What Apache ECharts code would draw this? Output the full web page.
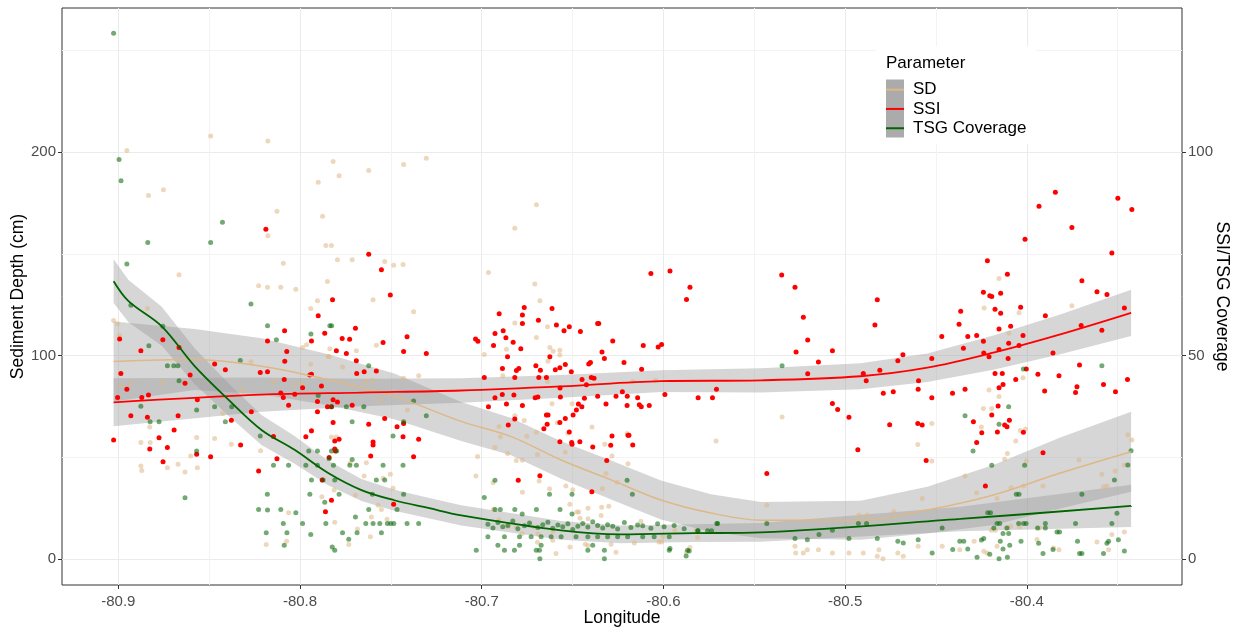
<!DOCTYPE html>
<html><head><meta charset="utf-8">
<script src="https://cdn.jsdelivr.net/npm/echarts@6/dist/echarts.min.js"></script>
<style>html,body{margin:0;padding:0;background:#fff}#c{width:1233px;height:628px}</style>
</head><body><div id="c"></div>
<script>
const FONT = '"Liberation Sans", Arial, sans-serif';
const xTicks = [-80.9, -80.8, -80.7, -80.6, -80.5, -80.4];
const xMinor = [-80.85, -80.75, -80.65, -80.55, -80.45, -80.35];
const leftTicks = [0, 100, 200];
const leftMinor = [50, 150, 250];
const rightTicks = [0, 50, 100];
const legendNames = ['SD', 'SSI', 'TSG Coverage'];

// Smoothed fits (longitude, fitted value, half-width of confidence band)
const sdFitLon = [-80.9026,-80.858,-80.8212,-80.7845,-80.7481,-80.7113,-80.6838,-80.6563,-80.6288,-80.6014,-80.5739,-80.5464,-80.4915,-80.4548,-80.4184,-80.3816,-80.3426];
const sdFit    = [97.1,98.0,94.7,88.1,79.9,67.6,60.1,48.6,38.8,28.9,22.5,19.0,19.0,24.0,31.4,42.2,52.7];
const sdSe     = [19.7,15.0,13.8,12.5,11.3,9.6,9.2,9.2,9.6,9.6,9.2,8.9,9.6,11.5,14.8,17.5,19.7];

const ssiFitLon = [-80.9026,-80.8212,-80.7662,-80.7113,-80.6563,-80.6014,-80.5464,-80.4915,-80.4548,-80.4184,-80.3816,-80.3426];
const ssiFit    = [38.5,40.4,40.9,41.4,42.4,43.7,43.9,44.9,47.0,50.7,55.2,60.5];
const ssiSe     = [5.9,4.2,3.4,3.0,2.8,2.7,3.0,3.2,3.5,4.2,4.9,5.7];

const tsgFitLon = [-80.9026,-80.8944,-80.8761,-80.858,-80.8393,-80.8212,-80.803,-80.7845,-80.7662,-80.7481,-80.7294,-80.7113,-80.6563,-80.6234,-80.5832,-80.5464,-80.4365,-80.3426];
const tsgFit    = [68.3,63.4,57.2,47.4,39.1,31.7,26.8,21.1,16.9,14.4,12.5,10.7,7.0,6.0,6.3,6.5,9.8,13.0];
const tsgSe     = [5.4,5.2,4.8,4.4,4.0,3.7,3.4,3.0,2.7,2.6,2.5,2.5,2.3,2.2,2.2,2.3,3.0,5.2];

// Observations [longitude, value]
const sdPoints = [
[-80.8953,200.9],[-80.8492,208.0],[-80.8177,205.5],[-80.8834,178.7],[-80.8752,181.6],[-80.8127,171.0],[-80.8177,158.9],[-80.7818,195.5],[-80.7785,188.5],[-80.79,185.3],[-80.7876,168.5],[-80.7622,191.0],[-80.743,194.0],[-80.7305,197.1],
[-80.6699,174.2],[-80.6818,162.6],
[-80.7858,154.2],[-80.7827,154.2],[-80.7794,147.1],[-80.7713,147.1],[-80.7534,146.3],[-80.7485,144.4],[-80.7433,144.8],[-80.8092,145.4],[-80.8666,139.7],[-80.7849,136.4],[-80.8228,134.4],[-80.8179,133.6],[-80.8106,133.6],[-80.8023,132.6],[-80.7904,127.0],[-80.7941,123.2],[-80.7598,127.5],[-80.7375,121.6],[-80.7986,104.0],[-80.7964,105.3],[-80.7836,103.3],[-80.784,99.5],[-80.769,102.3],[-80.758,105.1],[-80.743,88.8],[-80.7347,90.1],
[-80.9026,117.3],[-80.9004,115.7],[-80.8993,109.9],[-80.884,123.2],[-80.8931,86.3],[-80.8986,85.3],[-80.8757,86.5],[-80.8321,83.1],[-80.827,96.9],[-80.8146,87.2],[-80.8029,86.0],[-80.7986,86.0],[-80.7941,95.7],[-80.7845,99.5],[-80.7766,94.4],[-80.7638,87.2],[-80.7602,87.8],[-80.7562,78.4],[-80.7409,73.2],
[-80.8827,64.9],[-80.8876,57.2],[-80.8825,57.2],[-80.8876,45.7],[-80.8871,43.4],[-80.873,44.8],[-80.8671,46.5],[-80.8633,42.7],[-80.8602,50.6],[-80.8569,59.7],[-80.8565,44.8],[-80.847,59.2],[-80.8426,71.5],[-80.8378,56.4],[-80.8217,53.1],[-80.8063,22.6],[-80.8186,7.0],[-80.7937,62.8],[-80.7827,59.9],[-80.78,59.9],[-80.788,30.5],[-80.7812,33.8],[-80.7809,18.0],[-80.7732,7.0],[-80.7695,31.2],[-80.7684,14.6],[-80.7647,40.7],[-80.7635,47.3],[-80.757,26.3],[-80.7552,24.3],[-80.7607,20.6],[-80.7521,19.4],[-80.7613,10.8],[-80.7543,39.6],[-80.7503,41.6],[-80.7488,34.7],[-80.7724,47.0],[-80.8074,8.6],
[-80.6963,140.8],[-80.6708,135.2],[-80.668,127.0],[-80.6818,116.0],[-80.6699,108.9],[-80.6638,114.2],[-80.6548,112.2],[-80.6986,100.5],[-80.6864,103.1],[-80.6625,104.0],[-80.657,102.6],[-80.657,100.3],[-80.6607,102.1],[-80.6635,97.2],[-80.64,96.4],[-80.6168,87.2],[-80.6043,87.8],[-80.6884,90.0],[-80.6638,87.2],[-80.6613,76.3],[-80.6503,76.3],[-80.6818,70.4],[-80.6766,68.0],[-80.6584,66.9],[-80.6393,64.9],[-80.62,61.6],[-80.6191,60.8],[-80.6905,65.1],[-80.6927,54.7],[-80.6897,60.1],[-80.6752,60.3],[-80.6699,62.3],[-80.6858,51.8],[-80.681,48.3],[-80.6777,48.5],[-80.6693,51.3],[-80.654,52.4],[-80.6526,61.8],[-80.6323,56.4],[-80.6283,50.6],[-80.6195,46.7],[-80.7032,40.7],[-80.7023,50.3],[-80.6937,37.4],[-80.6776,32.7],[-80.6684,38.3],[-80.6627,34.5],[-80.6537,35.8],[-80.6499,34.0],[-80.6515,26.8],[-80.6316,41.9],[-80.6255,37.6],[-80.6336,34.5],[-80.634,25.4],[-80.6124,18.5],[-80.6415,24.9],[-80.6466,23.0],[-80.571,57.9],[-80.5873,3.2],[-80.5854,5.5],
[-80.6288,7.2],[-80.6261,3.2],[-80.616,7.8],[-80.6025,8.3],[-80.601,8.3],[-80.5937,14.1],[-80.582,14.1],[-80.5812,10.5],[-80.6003,11.0],[-80.6609,9.1],[-80.6591,2.6],[-80.6693,8.1],[-80.6515,5.8],[-80.643,7.2],[-80.6415,6.5],[-80.6477,23.0],[-80.6459,19.9],[-80.6415,19.7],[-80.6343,21.3],[-80.6301,25.9],[-80.6935,24.4],[-80.6905,19.2],[-80.6856,15.7],[-80.681,15.7],[-80.6712,15.6],[-80.669,12.2],[-80.6777,12.4],[-80.6607,13.4],
[-80.4153,137.9],[-80.4235,123.4],[-80.4043,121.1],[-80.3752,124.5],[-80.4098,111.0],[-80.5347,69.7],[-80.4208,83.1],[-80.4153,79.8],[-80.4239,74.0],[-80.4193,74.0],[-80.4021,89.1],[-80.4523,66.6],[-80.46,56.2],[-80.425,64.9],[-80.4036,63.1],[-80.4007,63.8],[-80.4523,48.1],[-80.434,40.7],[-80.4061,58.0],[-80.4107,51.8],[-80.4122,49.0],[-80.4003,48.1],[-80.4276,32.5],[-80.4164,29.7],[-80.4087,35.0],[-80.4018,35.8],[-80.3911,35.8],[-80.3712,48.6],[-80.3587,41.6],[-80.3559,35.8],[-80.3514,43.2],[-80.3463,46.2],[-80.3444,61.0],[-80.3422,58.5],[-80.4576,29.7],[-80.4732,23.1],[-80.4878,21.5],[-80.4924,21.5],[-80.5431,26.4],
[-80.5276,6.2],[-80.5272,2.9],[-80.523,2.9],[-80.5208,4.5],[-80.5147,4.5],[-80.507,2.9],[-80.4979,2.9],[-80.49,2.9],[-80.4823,1.2],[-80.4792,0],[-80.4814,4.5],[-80.471,2.9],[-80.468,1.2],[-80.4598,6.2],[-80.4466,6.2],[-80.4369,4.5],[-80.429,8.6],[-80.4237,3.7],[-80.4219,2.9],[-80.4195,14.1],[-80.4173,14.1],[-80.4164,6.2],[-80.4114,15.2],[-80.4089,16.0],[-80.4041,15.7],[-80.3944,9.5],[-80.393,15.2],[-80.3853,5.3],[-80.3823,4.5],[-80.3614,8.3],[-80.355,4.5],[-80.3532,12.0],[-80.3463,13.2],[-80.3578,35.5]
];

const ssiPoints = [
[-80.8188,81.1],[-80.7622,74.9],[-80.7552,71.1],[-80.7503,64.9],[-80.7821,63.7],[-80.79,59.8],[-80.8085,56.1],[-80.7695,56.7],[-80.7864,55.5],[-80.8179,53.6],[-80.7937,53.6],[-80.7768,54.2],[-80.7727,54.0],[-80.7411,54.6],[-80.7543,53.2],[-80.7305,50.5],[-80.743,51.0],[-80.78,51.2],[-80.7745,50.5],[-80.769,48.7],[-80.8073,51.0],[-80.8084,48.6],[-80.8993,54.1],[-80.8876,51.2],[-80.8986,45.6],[-80.8755,53.9],[-80.8666,52.0],[-80.847,47.9],[-80.8411,46.5],[-80.8605,45.2],[-80.8633,43.2],[-80.8953,41.7],[-80.9004,39.7],[-80.8871,39.7],[-80.8834,40.3],[-80.8931,35.2],[-80.9026,29.2],[-80.884,34.8],[-80.8776,29.8],[-80.8827,27.0],[-80.8693,31.7],[-80.8671,35.2],[-80.873,27.4],[-80.8754,23.9],[-80.8569,25.7],[-80.8492,25.1],[-80.8565,39.1],[-80.8378,34.1],[-80.8327,28.0],[-80.8268,36.2],[-80.8228,21.6],[-80.8127,24.6],[-80.8219,45.8],[-80.8179,46.0],[-80.8087,44.1],[-80.8146,30.1],[-80.8106,40.8],[-80.8092,39.7],[-80.8063,37.8],[-80.8029,40.5],[-80.7986,42.1],[-80.7946,45.2],[-80.7937,45.4],[-80.7904,38.7],[-80.7904,36.2],[-80.7882,42.5],[-80.7849,37.4],[-80.7827,37.4],[-80.7818,39.1],[-80.7794,38.6],[-80.7713,37.8],[-80.7688,45.6],[-80.7647,46.0],[-80.758,46.2],[-80.7622,33.1],[-80.7598,28.7],[-80.7598,28.0],[-80.7534,34.5],[-80.7466,32.5],[-80.743,33.3],[-80.7433,30.0],[-80.7347,29.4],[-80.7375,25.1],[-80.7611,25.3],[-80.7818,33.5],[-80.7809,29.0],[-80.7785,29.4],[-80.7809,27.0],[-80.7805,26.5],[-80.7968,30.0],[-80.7937,31.5],[-80.784,24.9],[-80.7878,19.4],[-80.7827,14.4],[-80.786,11.6],[-80.7485,13.4],
[-80.6069,70.2],[-80.5964,70.8],[-80.5854,66.8],[-80.5873,63.8],[-80.7034,54.1],[-80.7021,53.5],[-80.6904,60.3],[-80.6766,61.8],[-80.6776,60.0],[-80.6776,57.9],[-80.6688,58.7],[-80.6613,61.6],[-80.6927,55.4],[-80.6882,56.1],[-80.6867,54.4],[-80.6935,52.5],[-80.6827,53.3],[-80.6785,51.7],[-80.6589,57.5],[-80.6518,57.1],[-80.6547,56.1],[-80.6457,55.9],[-80.6362,57.9],[-80.6356,57.9],[-80.6279,53.6],[-80.6111,52.5],[-80.6029,52.1],[-80.601,52.7],[-80.6858,49.7],[-80.6625,49.7],[-80.6338,50.9],[-80.6325,49.3],[-80.6217,48.3],[-80.6886,46.8],[-80.6796,46.8],[-80.6809,46.3],[-80.6702,47.5],[-80.6677,46.4],[-80.6595,46.5],[-80.657,47.0],[-80.654,47.8],[-80.6507,46.0],[-80.6411,47.9],[-80.6402,48.3],[-80.612,46.6],[-80.6986,44.6],[-80.6818,44.6],[-80.6686,44.6],[-80.6644,44.6],[-80.6448,44.1],[-80.6397,44.6],[-80.6382,44.4],[-80.6569,42.0],[-80.6424,42.8],[-80.6226,41.1],[-80.6927,39.6],[-80.6887,40.4],[-80.6823,40.3],[-80.6691,39.8],[-80.6567,39.8],[-80.6435,39.5],[-80.6362,40.0],[-80.6261,40.0],[-80.6199,40.0],[-80.6142,39.6],[-80.5992,40.4],[-80.5809,39.6],[-80.573,39.6],[-80.5708,41.7],[-80.6963,37.4],[-80.6864,38.1],[-80.6776,37.7],[-80.6706,39.6],[-80.6468,38.1],[-80.6316,38.1],[-80.62,37.7],[-80.6133,37.9],[-80.6122,37.4],[-80.6078,37.7],[-80.6818,34.4],[-80.6854,32.9],[-80.6644,35.4],[-80.6635,35.4],[-80.654,34.5],[-80.6497,35.4],[-80.6479,36.6],[-80.6449,37.4],[-80.664,33.1],[-80.6658,32.0],[-80.657,33.5],[-80.6518,31.2],[-80.6505,28.6],[-80.6503,28.2],[-80.646,28.8],[-80.657,28.8],[-80.6389,27.5],[-80.629,27.9],[-80.6283,30.2],[-80.6195,30.4],[-80.619,30.4],[-80.6169,28.0],[-80.6312,24.2],[-80.6799,19.3],[-80.668,20.4],[-80.6394,16.5],
[-80.3843,90.2],[-80.3933,86.7],[-80.3499,88.7],[-80.3422,85.9],[-80.3752,81.5],[-80.401,78.6],[-80.3532,75.2],[-80.4217,73.3],[-80.4107,70.0],[-80.5349,69.8],[-80.3697,68.4],[-80.5276,66.8],[-80.4239,65.6],[-80.4204,64.7],[-80.4193,64.5],[-80.4144,65.3],[-80.3614,65.7],[-80.3559,65.0],[-80.4823,63.7],[-80.4175,61.4],[-80.4144,60.4],[-80.4034,61.9],[-80.4364,60.9],[-80.523,59.4],[-80.3898,59.8],[-80.3463,61.7],[-80.4836,57.5],[-80.4373,57.7],[-80.4153,56.5],[-80.4089,57.2],[-80.5206,53.8],[-80.4468,54.7],[-80.4325,54.7],[-80.4276,54.9],[-80.4239,53.5],[-80.3587,56.2],[-80.3701,57.4],[-80.4021,54.9],[-80.527,50.9],[-80.507,51.2],[-80.5147,48.4],[-80.4682,50.2],[-80.471,48.7],[-80.4523,49.3],[-80.4349,51.8],[-80.4237,50.6],[-80.4208,49.7],[-80.4153,51.5],[-80.41,53.0],[-80.4043,52.5],[-80.4103,49.3],[-80.3856,50.6],[-80.5206,45.5],[-80.49,45.6],[-80.4884,43.8],[-80.4809,46.4],[-80.4596,43.8],[-80.4175,45.6],[-80.4135,45.6],[-80.4061,44.1],[-80.4003,46.7],[-80.3939,45.4],[-80.3823,45.0],[-80.371,47.7],[-80.3578,42.9],[-80.3446,44.1],[-80.479,40.7],[-80.4735,41.1],[-80.4598,41.7],[-80.4523,39.6],[-80.4409,40.7],[-80.434,41.7],[-80.4153,42.1],[-80.4131,42.9],[-80.3902,41.3],[-80.3724,42.3],[-80.3732,40.9],[-80.3512,41.1],[-80.507,38.2],[-80.5041,36.7],[-80.4979,34.8],[-80.4755,33.0],[-80.46,33.3],[-80.4576,32.9],[-80.4294,33.7],[-80.4248,31.0],[-80.4193,35.4],[-80.4162,31.2],[-80.4158,37.6],[-80.4122,32.9],[-80.4109,32.5],[-80.4096,34.1],[-80.4276,28.6],[-80.4019,31.1],[-80.493,26.8],[-80.4554,24.2],[-80.3911,26.1],[-80.5431,21.0],[-80.4228,17.9]
];

const tsgPoints = [
[-80.9026,129.3],[-80.8996,98.2],[-80.8985,93.0],[-80.8427,82.8],[-80.8838,77.8],[-80.8492,77.8],[-80.8953,72.5],[-80.827,62.7],[-80.8931,62.4],[-80.8755,57.2],[-80.8832,52.4],[-80.8179,57.3],[-80.813,53.9],[-80.794,55.3],[-80.7836,57.3],[-80.7826,57.3],
[-80.873,47.5],[-80.8695,47.5],[-80.8672,47.5],[-80.8666,43.8],[-80.8329,48.8],[-80.8876,37.5],[-80.8825,33.7],[-80.8776,33.7],[-80.8569,36.6],[-80.847,37.4],[-80.8376,37.4],[-80.8411,33.7],[-80.8569,26.5],[-80.8633,15.0],[-80.7622,47.5],[-80.7375,38.8],[-80.7305,35.2],[-80.743,33.7],[-80.7488,30.2],[-80.79,40.2],[-80.7827,37.4],[-80.7745,37.4],[-80.7649,37.4],[-80.7713,33.7],[-80.8219,30.2],
[-80.7952,26.5],[-80.7904,26.5],[-80.7827,26.5],[-80.7798,26.5],[-80.8146,23.0],[-80.8063,23.0],[-80.7968,23.0],[-80.7904,23.0],[-80.784,24.6],[-80.7816,23.0],[-80.7726,23.0],[-80.769,23.0],[-80.7713,24.4],[-80.7543,23.0],[-80.7433,23.0],
[-80.7937,19.4],[-80.7873,19.4],[-80.7809,19.4],[-80.758,19.4],[-80.7534,19.4],[-80.818,15.9],[-80.7946,15.9],[-80.7785,15.9],[-80.7602,15.9],[-80.743,15.9],
[-80.8228,12.1],[-80.8179,12.0],[-80.8106,12.1],[-80.8023,11.3],[-80.7864,13.9],[-80.7622,12.1],[-80.7466,12.1],
[-80.8092,8.7],[-80.7986,8.7],[-80.7858,8.7],[-80.7695,10.3],[-80.7638,8.7],[-80.7598,8.7],[-80.7561,8.7],[-80.7519,8.7],[-80.7501,8.7],[-80.7484,8.7],[-80.7411,8.7],[-80.7347,8.7],
[-80.8186,6.4],[-80.8072,6.4],[-80.7941,6.0],[-80.7766,6.4],[-80.7686,6.4],[-80.7552,6.4],[-80.8087,3.3],[-80.7823,2.9],[-80.7809,2.1],[-80.7732,4.8],
[-80.6927,19.3],[-80.6986,15.1],[-80.6627,15.9],[-80.6503,15.9],[-80.6927,12.1],[-80.6898,12.1],[-80.6818,12.1],[-80.6777,11.0],[-80.6699,12.1],[-80.6569,12.1],[-80.6503,11.0],[-80.62,19.3],[-80.6171,15.9],
[-80.6966,8.5],[-80.6938,7.6],[-80.6911,8.9],[-80.6884,7.9],[-80.6856,8.2],[-80.6829,9.3],[-80.6801,7.4],[-80.6765,8.1],[-80.6737,8.8],[-80.6691,7.7],[-80.6664,8.4],[-80.6636,9.0],[-80.6609,7.5],[-80.6581,8.3],[-80.6554,7.9],[-80.6526,8.6],[-80.6499,7.2],[-80.6471,8.0],[-80.6444,8.7],[-80.6416,7.8],[-80.6389,9.1],[-80.6362,8.2],[-80.6334,7.6],[-80.6307,8.4],[-80.6279,8.0],[-80.6252,7.3],[-80.6215,8.9],[-80.6179,7.7],[-80.6142,8.3],[-80.6114,8.1],[-80.6069,7.5],[-80.6032,8.6],[-80.5996,7.9],[-80.5941,8.2],[-80.5886,7.4],[-80.5812,6.9],[-80.5757,6.9],[-80.5702,8.7],
[-80.6966,5.4],[-80.6875,5.4],[-80.6792,5.4],[-80.6728,5.4],[-80.6673,5.4],[-80.6618,5.4],[-80.6563,5.4],[-80.6481,5.4],[-80.6416,5.4],[-80.6362,5.4],[-80.6307,5.4],[-80.6252,5.4],[-80.6197,5.4],[-80.6114,5.4],[-80.6051,5.4],[-80.5968,5.4],
[-80.703,2.1],[-80.6875,2.1],[-80.682,2.1],[-80.67,2.1],[-80.6682,2.1],[-80.6416,2.1],[-80.6325,2.1],[-80.5968,2.1],[-80.5867,2.1],
[-80.6911,3.3],[-80.6792,3.3],[-80.6673,3.3],[-80.6389,3.3],[-80.668,0],[-80.6325,0],
[-80.5809,6.9],[-80.5735,6.9],[-80.5706,8.7],[-80.5964,2.5],[-80.5858,1.9],[-80.5875,0.7],
[-80.5347,47.5],[-80.5431,8.7],[-80.5276,5.0],[-80.5208,4.7],[-80.5144,6.0],[-80.507,7.0],[-80.4979,5.0],[-80.4927,8.7],[-80.4882,8.7],[-80.4823,5.0],[-80.471,4.3],[-80.468,3.9],[-80.4598,4.7],[-80.4521,1.4],[-80.4466,7.6],[-80.4408,2.3],[-80.4369,4.3],[-80.4347,4.3],[-80.4325,2.4],[-80.4274,0.4],[-80.425,4.6],[-80.4237,5.0],[-80.4204,1.1],[-80.4182,7.6],[-80.4164,8.7],[-80.4149,8.7],[-80.4146,4.3],[-80.4131,6.2],[-80.4109,7.6],[-80.41,6.2],[-80.4094,3.3],[-80.4131,2.4],[-80.4153,0],[-80.4107,0.4],[-80.4032,4.3],[-80.4045,8.7],[-80.4018,8.7],[-80.4004,8.7],[-80.3941,7.6],[-80.3935,3.8],[-80.3911,1.3],[-80.3898,8.7],[-80.3898,7.6],[-80.3856,2.3],[-80.3834,6.6],[-80.382,6.6],[-80.3732,8.7],[-80.3721,4.3],[-80.371,1.3],[-80.3697,1.3],[-80.3578,1.3],[-80.3559,3.8],[-80.355,4.3],[-80.3532,8.7],[-80.3504,11.2],[-80.3496,4.7],[-80.3463,1.9],[-80.3518,19.4],[-80.3444,23.1],[-80.3426,26.6],[-80.3697,15.9],[-80.3587,47.5],[-80.4019,46.7],[-80.41,37.4],[-80.4153,33.1],[-80.434,35.2],[-80.4296,26.5],[-80.4193,23.0],[-80.4012,23.0],[-80.4058,15.9],[-80.4043,15.9],[-80.4215,11.3],[-80.42,11.3]
];

const C_SD = '#DEB887', C_SSI = '#FF0000', C_TSG = '#006400';

function bandSeries(name, lon, fit, se, yIdx) {
  return {
    type: 'custom', name: name, yAxisIndex: yIdx, silent: true,
    data: [[lon[0], fit[0]]],
    renderItem: function (params, api) {
      const upper = lon.map((x, i) => api.coord([x, fit[i] + se[i]]));
      const lower = lon.map((x, i) => api.coord([x, fit[i] - se[i]])).reverse();
      return { type: 'polygon', shape: { points: upper.concat(lower) },
               style: { fill: 'rgba(153,153,153,0.4)' } };
    }
  };
}
function fitSeries(name, lon, fit, color, yIdx, w) {
  return { type: 'line', name: name, yAxisIndex: yIdx, smooth: 0.35, showSymbol: false, silent: true,
    data: lon.map((x, i) => [x, fit[i]]), itemStyle: { color: color },
    lineStyle: { color: color, width: w } };
}
function pointSeries(name, pts, color, op, yIdx) {
  return { type: 'scatter', name: name, yAxisIndex: yIdx, symbolSize: 5, silent: true,
    data: pts, itemStyle: { color: color, opacity: op } };
}

const chart = echarts.init(document.getElementById('c'), null, { renderer: 'canvas' });
const xBase = { type: 'value', min: -80.931, max: -80.3146, gridIndex: 0 };
const yLBase = { type: 'value', min: -12.9, max: 271, position: 'left' };
chart.setOption({
  animation: false,
  backgroundColor: '#fff',
  textStyle: { fontFamily: FONT },
  grid: { left: 62, right: 51, top: 8, bottom: 43, show: true, borderColor: '#333', borderWidth: 1,
          backgroundColor: 'transparent', outerBoundsMode: 'none' },
  xAxis: [
    Object.assign({}, xBase, {
      axisLine: { show: false, onZero: false },
      axisTick: { show: true, length: 4, lineStyle: { color: '#333' }, customValues: xTicks },
      axisLabel: { customValues: xTicks, fontSize: 15, color: '#4d4d4d', margin: 9, fontFamily: FONT,
                   formatter: v => v.toFixed(1) },
      splitLine: { show: true, lineStyle: { color: '#ebebeb', width: 1 } },
      name: 'Longitude', nameLocation: 'middle', nameGap: 24, nameMoveOverlap: false,
      nameTextStyle: { fontSize: 17.5, color: '#000', fontFamily: FONT }
    }),
    Object.assign({}, xBase, {
      axisLine: { show: false, onZero: false }, axisTick: { show: false, customValues: xMinor },
      axisLabel: { show: false, customValues: xMinor },
      splitLine: { show: true, lineStyle: { color: '#f3f3f3', width: 1 } }
    })
  ],
  yAxis: [
    Object.assign({}, yLBase, {
      axisLine: { show: false, onZero: false },
      axisTick: { show: true, length: 4, lineStyle: { color: '#333' }, customValues: leftTicks },
      axisLabel: { customValues: leftTicks, fontSize: 15, color: '#4d4d4d', margin: 6, fontFamily: FONT },
      splitLine: { show: true, lineStyle: { color: '#ebebeb', width: 1 } },
      name: 'Sediment Depth (cm)', nameLocation: 'middle', nameGap: 35, nameRotate: 90, nameMoveOverlap: false,
      nameTextStyle: { fontSize: 17.5, color: '#000', fontFamily: FONT }
    }),
    { type: 'value', min: -6.45, max: 135.5, position: 'right',
      axisLine: { show: false, onZero: false },
      axisTick: { show: true, length: 4, lineStyle: { color: '#333' }, customValues: rightTicks },
      axisLabel: { customValues: rightTicks, fontSize: 15, color: '#4d4d4d', margin: 6, fontFamily: FONT },
      splitLine: { show: false },
      name: 'SSI/TSG Coverage', nameLocation: 'middle', nameGap: 31, nameRotate: -90, nameMoveOverlap: false,
      nameTextStyle: { fontSize: 17.5, color: '#000', fontFamily: FONT }
    },
    Object.assign({}, yLBase, {
      axisLine: { show: false, onZero: false }, axisTick: { show: false, customValues: leftMinor },
      axisLabel: { show: false, customValues: leftMinor },
      splitLine: { show: true, lineStyle: { color: '#f3f3f3', width: 1 } }
    })
  ],
  legend: {
    orient: 'vertical', left: 886, top: 80, padding: 0, itemGap: 0, itemWidth: 18, itemHeight: 2,
    icon: 'rect', selectedMode: false, z: 12,
    textStyle: { fontFamily: FONT, fontSize: 17, color: '#000', lineHeight: 19.3, padding: [0, 0, 0, 4] },
    data: [
      { name: legendNames[0], itemStyle: { color: C_SD, opacity: 1 } },
      { name: legendNames[1], itemStyle: { color: C_SSI, opacity: 1 } },
      { name: legendNames[2], itemStyle: { color: C_TSG, opacity: 1 } }
    ]
  },
  graphic: [
    { type: 'rect', left: 876, top: 46, shape: { width: 160, height: 98 }, style: { fill: '#fff' }, z: 10 },
    { type: 'rect', left: 886, top: 79.5, shape: { width: 18, height: 58 }, style: { fill: '#ababab' }, z: 11 },
    { type: 'text', left: 886, top: 55, z: 12,
      style: { text: 'Parameter', fontSize: 17, fill: '#000', fontFamily: FONT } }
  ],
  series: [
    pointSeries(legendNames[0], sdPoints, C_SD, 0.55, 0),
    pointSeries(legendNames[1], ssiPoints, C_SSI, 1, 1),
    pointSeries(legendNames[2], tsgPoints, C_TSG, 0.55, 1),
    bandSeries(legendNames[0], sdFitLon, sdFit, sdSe, 0),
    fitSeries(legendNames[0], sdFitLon, sdFit, C_SD, 0, 1.5),
    bandSeries(legendNames[1], ssiFitLon, ssiFit, ssiSe, 1),
    fitSeries(legendNames[1], ssiFitLon, ssiFit, C_SSI, 1, 1.8),
    bandSeries(legendNames[2], tsgFitLon, tsgFit, tsgSe, 1),
    fitSeries(legendNames[2], tsgFitLon, tsgFit, C_TSG, 1, 1.8)
  ]
});
</script>
</body></html>
